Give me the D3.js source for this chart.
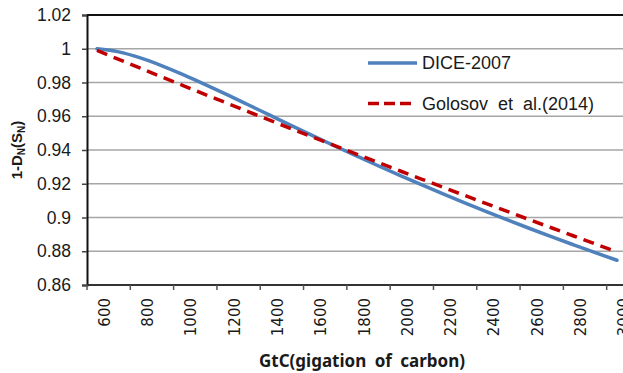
<!DOCTYPE html>
<html>
<head>
<meta charset="utf-8">
<script src="https://cdn.jsdelivr.net/npm/d3@7"></script>
<style>
  html, body { margin: 0; padding: 0; background: #fff; overflow: hidden; }
  svg { display: block; }
</style>
</head>
<body>
<svg id="chart" width="623" height="373"></svg>
<script>
// Cumulative carbon stock (GtC)
const gtc = [600, 700, 800, 900, 1000, 1100, 1200, 1300, 1400, 1500, 1600, 1700, 1800,
             1900, 2000, 2100, 2200, 2300, 2400, 2500, 2600, 2700, 2800, 2900, 3000];
// Output net of damages, 1 - D_N(S_N)
const dice2007 = [0.99994, 0.99816, 0.99459, 0.98992, 0.98456, 0.97879, 0.97278, 0.96665,
                  0.96049, 0.95434, 0.94824, 0.94224, 0.93633, 0.93053, 0.92485, 0.91928,
                  0.91386, 0.90853, 0.90334, 0.89826, 0.89333, 0.88849, 0.88379, 0.87916, 0.87465];
const golosov = [0.99899, 0.99371, 0.98846, 0.98323, 0.97804, 0.97287, 0.96773, 0.96261,
                 0.95752, 0.95246, 0.94743, 0.94242, 0.93744, 0.93248, 0.92755, 0.92265,
                 0.91777, 0.91292, 0.90809, 0.90329, 0.89852, 0.89377, 0.88904, 0.88434, 0.87967];
// Axis labels
const xTickLabels = ["600", "800", "1000", "1200", "1400", "1600", "1800", "2000",
                     "2200", "2400", "2600", "2800", "3000"];
const yTicks = [0.86, 0.88, 0.9, 0.92, 0.94, 0.96, 0.98, 1, 1.02];
const seriesNames = ["DICE-2007", "Golosov et al.(2014)"];

const svg = d3.select("#chart");
const plot = { left: 87, top: 15, bottom: 285, right: 650 };

const y = d3.scaleLinear().domain([0.86, 1.02]).range([plot.bottom, plot.top]);
const x = d3.scaleLinear().domain([600, 3000]).range([97, 617]);
const xCat = d3.scaleBand().domain(xTickLabels).range([plot.left, plot.right]);

// horizontal gridlines
svg.append("g")
  .selectAll("line")
  .data(yTicks.slice(1))
  .join("line")
  .attr("x1", plot.left).attr("x2", plot.right)
  .attr("y1", d => y(d)).attr("y2", d => y(d))
  .attr("stroke", "#a6a6a6").attr("stroke-width", 1.5);

// top frame border
svg.append("line")
  .attr("x1", plot.left).attr("x2", plot.right)
  .attr("y1", plot.top).attr("y2", plot.top)
  .attr("stroke", "#111").attr("stroke-width", 2);

// y axis
const yAxis = svg.append("g")
  .attr("transform", `translate(${plot.left},0)`)
  .call(d3.axisLeft(y).tickValues(yTicks).tickSize(5).tickPadding(11)
        .tickFormat(d => d3.format("")(+d.toFixed(2))));
yAxis.select(".domain").attr("stroke", "#111").attr("stroke-width", 2);
yAxis.selectAll(".tick line").attr("stroke", "#444").attr("stroke-width", 1.5);
yAxis.selectAll(".tick text")
  .attr("font-family", "'Liberation Sans', Arial, sans-serif")
  .attr("font-size", 17.5).attr("fill", "#1a1a1a");

// x axis: tick marks on category boundaries, labels centred in each category
const xAxisG = svg.append("g").attr("transform", `translate(0,${plot.bottom})`);
xAxisG.append("line")
  .attr("x1", plot.left).attr("x2", plot.right)
  .attr("stroke", "#333").attr("stroke-width", 2);
const bounds = xTickLabels.map(d => xCat(d));
xAxisG.selectAll("line.tk")
  .data(bounds)
  .join("line").attr("class", "tk")
  .attr("x1", d => d).attr("x2", d => d)
  .attr("y1", 0).attr("y2", 5)
  .attr("stroke", "#555").attr("stroke-width", 1.5);
xAxisG.selectAll("text")
  .data(xTickLabels)
  .join("text")
  .attr("transform", d => `translate(${xCat(d) + xCat.bandwidth() / 2 - 4},13) rotate(-90)`)
  .attr("text-anchor", "end")
  .attr("dominant-baseline", "central")
  .attr("font-family", "'DejaVu Sans', sans-serif")
  .attr("font-size", 15)
  .attr("fill", "#1a1a1a")
  .text(d => d);

// series lines
const line = d3.line().x((d, i) => x(gtc[i])).y(d => y(d)).curve(d3.curveMonotoneX);
svg.append("path")
  .datum(dice2007)
  .attr("d", line)
  .attr("fill", "none").attr("stroke", "#4f81bd")
  .attr("stroke-width", 3.5).attr("stroke-linecap", "round");
svg.append("path")
  .datum(golosov)
  .attr("d", line)
  .attr("fill", "none").attr("stroke", "#c00000")
  .attr("stroke-width", 3.5).attr("stroke-dasharray", "11,7");

// legend
const legend = svg.append("g").attr("transform", "translate(368,0)");
const legendRows = [
  { name: seriesNames[0], color: "#4f81bd", dash: null, y: 63 },
  { name: seriesNames[1], color: "#c00000", dash: "11,5", y: 103.5 }
];
legendRows.forEach(r => {
  legend.append("line")
    .attr("x1", 0).attr("x2", r.dash ? 46 : 49)
    .attr("y1", r.y).attr("y2", r.y)
    .attr("stroke", r.color).attr("stroke-width", 3.5)
    .attr("stroke-dasharray", r.dash);
  legend.append("text")
    .attr("x", 54).attr("y", r.y)
    .attr("dominant-baseline", "central")
    .attr("font-family", "'Liberation Sans', Arial, sans-serif")
    .attr("font-size", 18).attr("fill", "#1a1a1a")
    .attr("word-spacing", r.dash ? 5 : 0)
    .text(r.name);
});

// axis titles
svg.append("text")
  .attr("x", 362).attr("y", 367)
  .attr("text-anchor", "middle")
  .attr("font-family", "'Noto Sans', sans-serif")
  .attr("font-weight", "bold").attr("font-size", 17)
  .attr("word-spacing", 4)
  .attr("fill", "#1a1a1a")
  .text("GtC(gigation of carbon)");

const yTitle = svg.append("text")
  .attr("transform", "translate(22,150) rotate(-90)")
  .attr("text-anchor", "middle")
  .attr("font-family", "'Liberation Sans', Arial, sans-serif")
  .attr("font-weight", "bold").attr("font-size", 15)
  .attr("fill", "#1a1a1a");
yTitle.append("tspan").text("1-D");
yTitle.append("tspan").attr("font-size", 10).attr("dy", 3).text("N");
yTitle.append("tspan").attr("dy", -3).text("(S");
yTitle.append("tspan").attr("font-size", 10).attr("dy", 3).text("N");
yTitle.append("tspan").attr("dy", -3).text(")");
</script>
</body>
</html>
